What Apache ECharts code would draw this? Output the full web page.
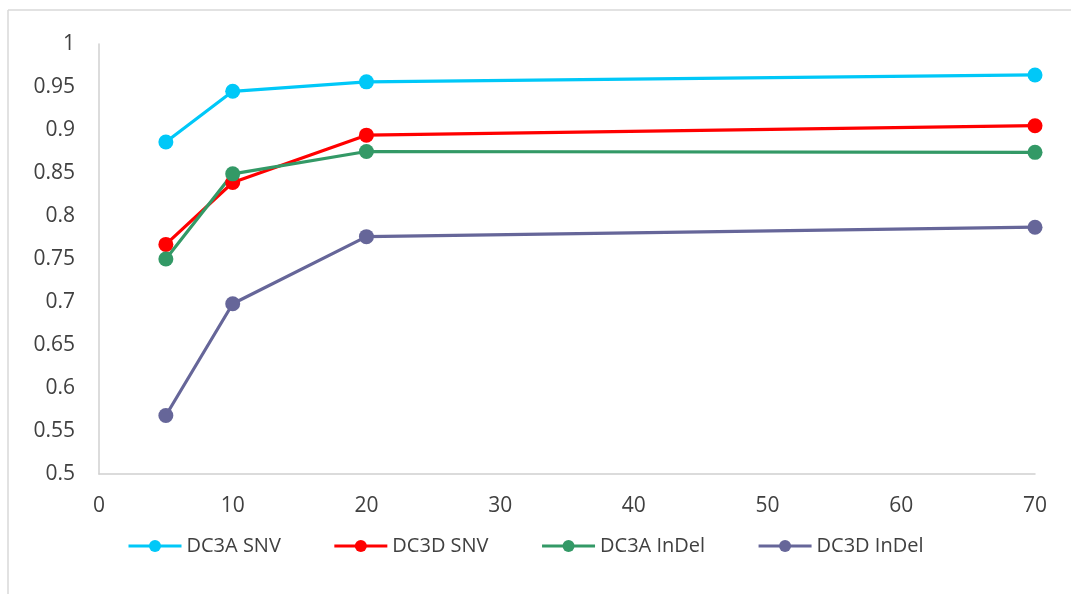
<!DOCTYPE html>
<html>
<head>
<meta charset="utf-8">
<script src="https://cdn.jsdelivr.net/npm/echarts@6/dist/echarts.min.js"></script>
<style>
html,body{margin:0;padding:0;background:#fff;}
#chart{width:1071px;height:594px;}
</style>
</head>
<body>
<div id="chart"></div>
<script>
const xValues = [5, 10, 20, 70];
const seriesNames = ['DC3A SNV', 'DC3D SNV', 'DC3A InDel', 'DC3D InDel'];
const dc3aSnv = [0.886, 0.945, 0.956, 0.964];
const dc3dSnv = [0.767, 0.839, 0.894, 0.905];
const dc3aInDel = [0.750, 0.849, 0.875, 0.874];
const dc3dInDel = [0.568, 0.698, 0.776, 0.787];
const colors = ['#00C8F8', '#FF0000', '#339966', '#666699'];

const allValues = [dc3aSnv, dc3dSnv, dc3aInDel, dc3dInDel];
const chart = echarts.init(document.getElementById('chart'), null, {renderer: 'canvas'});
const font = '"Open Sans", "DejaVu Sans", sans-serif';

chart.setOption({
  animation: false,
  backgroundColor: '#fff',
  color: colors,
  textStyle: {fontFamily: font},
  graphic: [
    {type: 'line', shape: {x1: 8, y1: 10, x2: 1071, y2: 10}, style: {stroke: '#d9d9d9', lineWidth: 1.5}, silent: true},
    {type: 'line', shape: {x1: 8, y1: 10, x2: 8, y2: 594}, style: {stroke: '#d9d9d9', lineWidth: 1.5}, silent: true}
  ],
  grid: {left: 99, right: 36, top: 44, bottom: 120, containLabel: false},
  legend: {
    data: seriesNames,
    left: 127,
    top: 536,
    padding: 0,
    itemWidth: 53,
    itemHeight: 15,
    itemGap: 52,
    lineStyle: {width: 3},
    textStyle: {fontSize: 20, color: '#404040', fontFamily: font}
  },
  xAxis: {
    type: 'value',
    min: 0, max: 70, interval: 10,
    axisLine: {show: true, lineStyle: {color: '#d0d0d0', width: 1.5}},
    axisTick: {show: false},
    splitLine: {show: false},
    axisLabel: {fontSize: 21, color: '#404040', margin: 22, fontFamily: font}
  },
  yAxis: {
    type: 'value',
    min: 0.5, max: 1, interval: 0.05,
    axisLine: {show: true, lineStyle: {color: '#d0d0d0', width: 1.5}},
    axisTick: {show: false},
    splitLine: {show: false},
    axisLabel: {fontSize: 21, color: '#404040', margin: 24, fontFamily: font,
      formatter: v => String(parseFloat(v.toFixed(2)))}
  },
  series: seriesNames.map((name, i) => ({
    name: name,
    type: 'line',
    data: xValues.map((x, j) => [x, allValues[i][j]]),
    symbol: 'circle',
    symbolSize: 15,
    lineStyle: {width: 3.2, color: colors[i]},
    itemStyle: {color: colors[i]}
  }))
});
</script>
</body>
</html>
